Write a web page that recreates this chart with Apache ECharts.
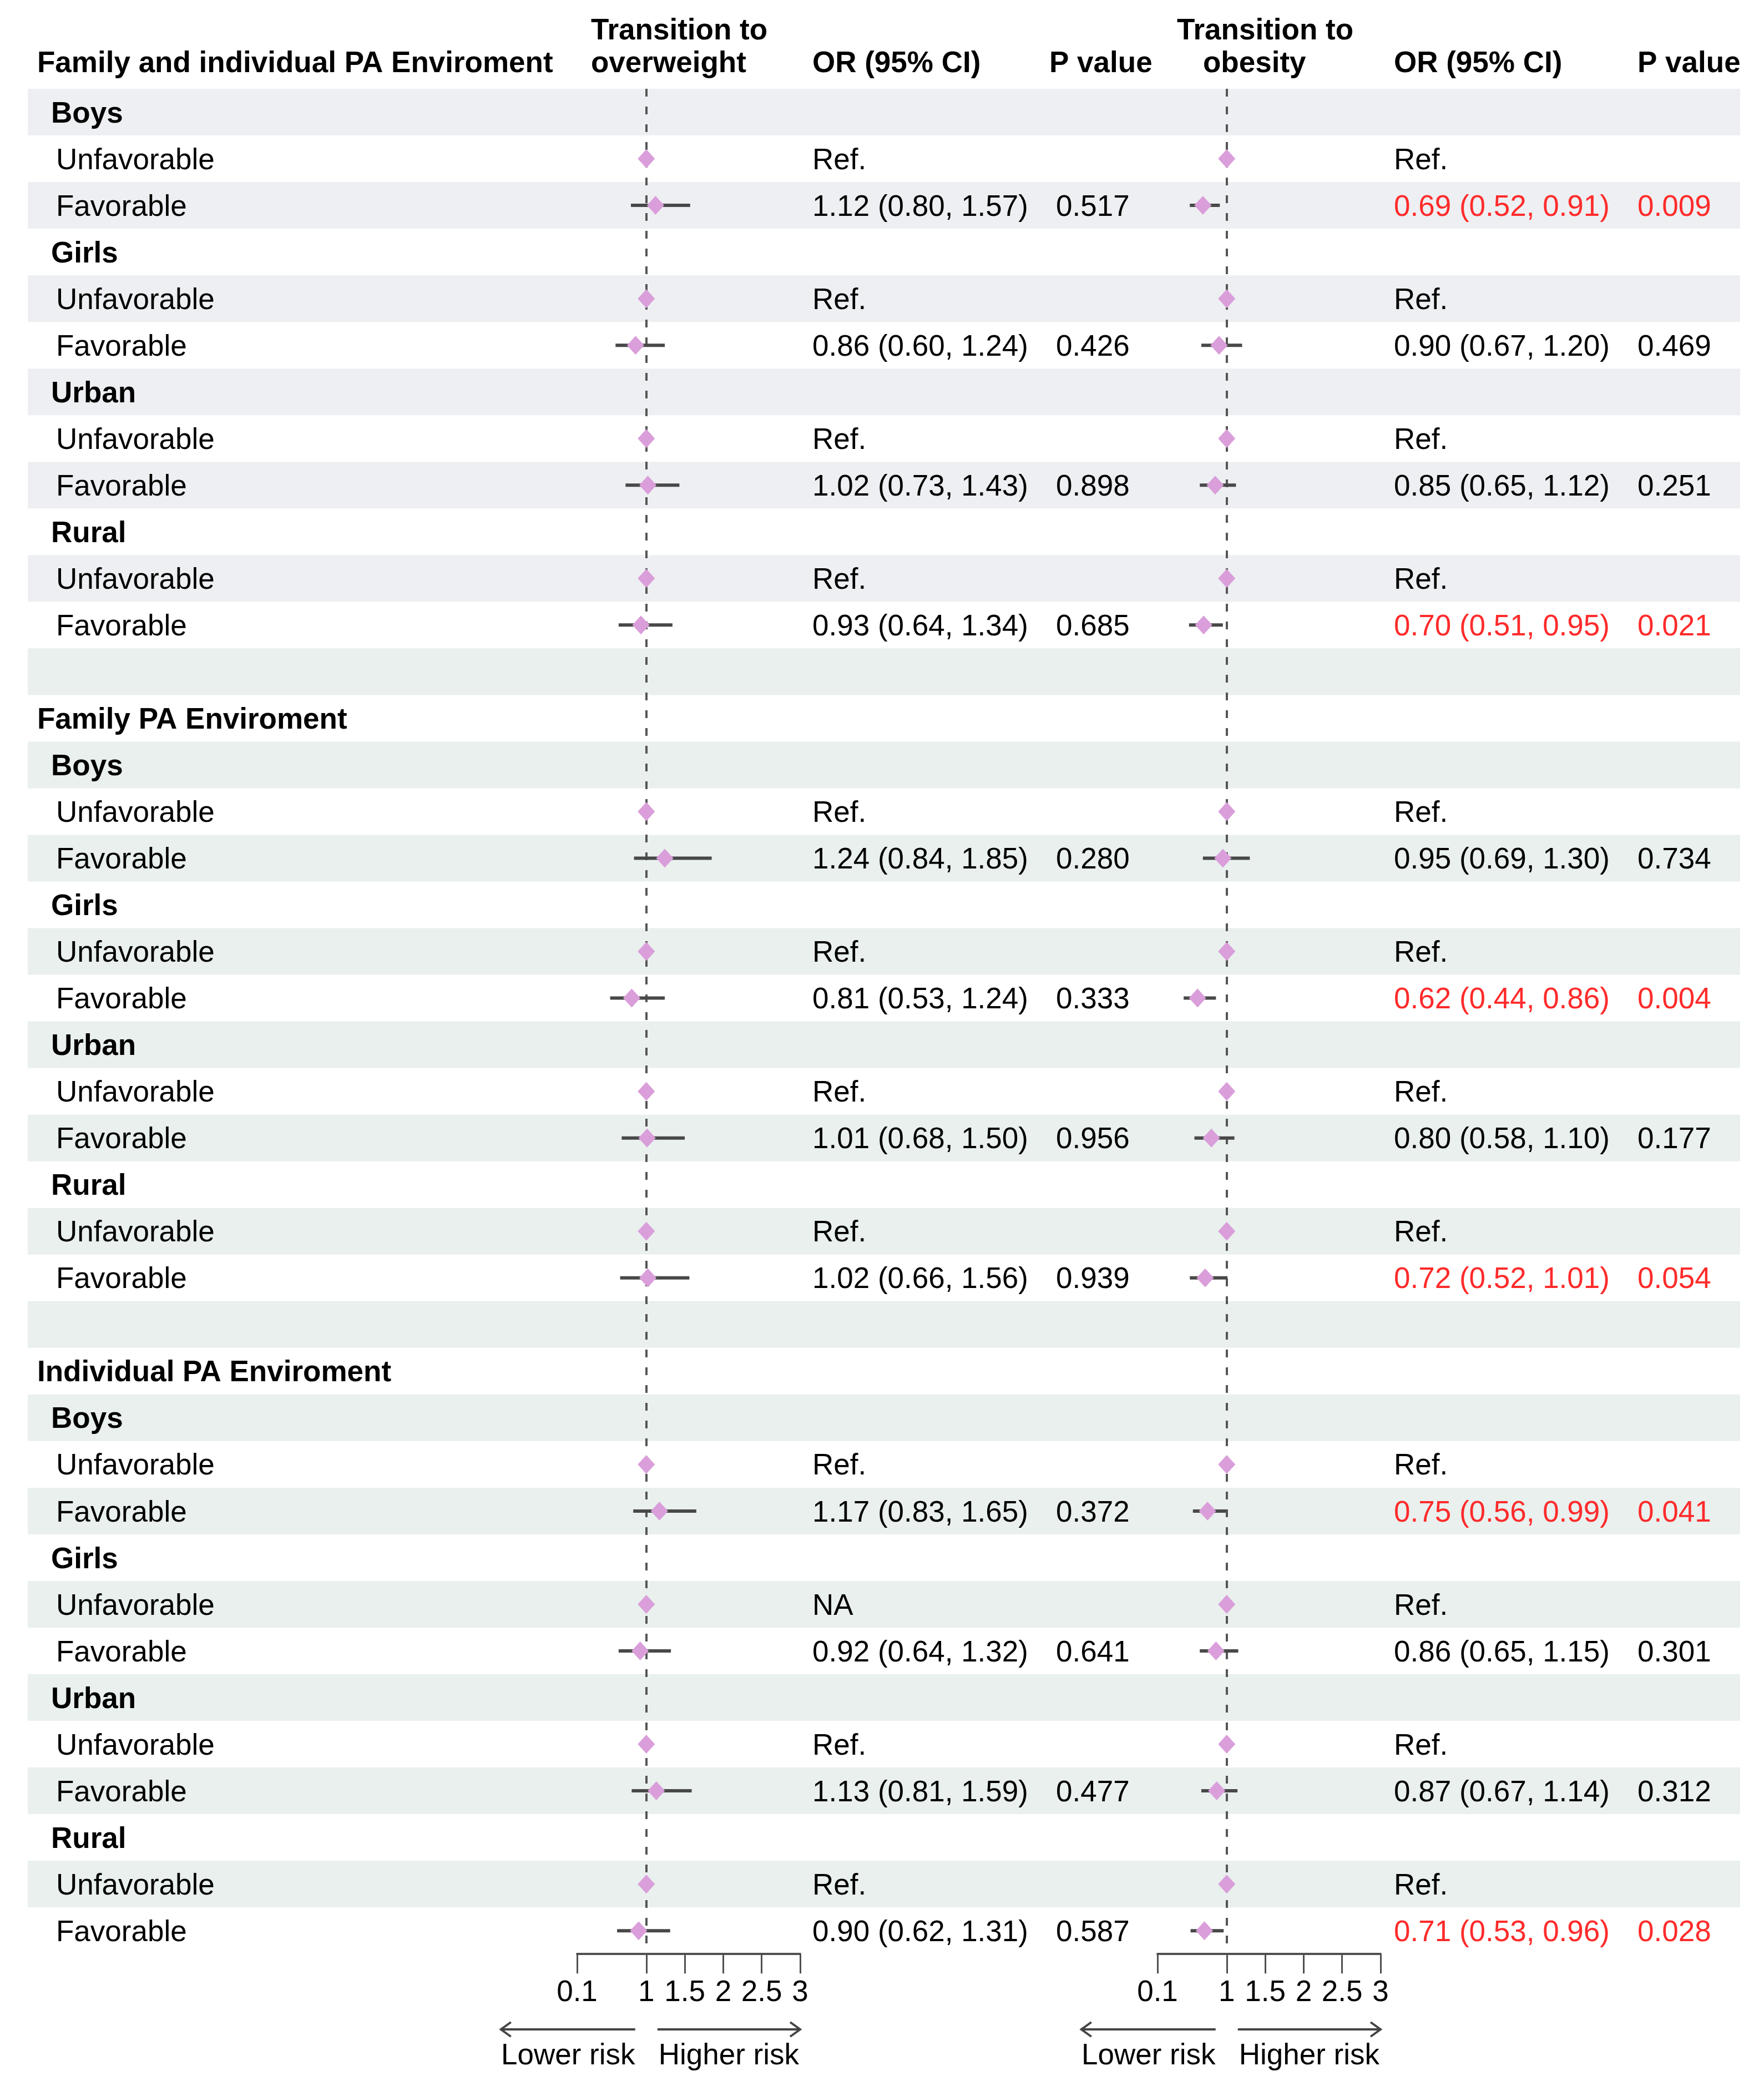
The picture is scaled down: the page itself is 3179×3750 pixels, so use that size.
<!DOCTYPE html>
<html>
<head>
<meta charset="utf-8">
<script src="https://cdn.jsdelivr.net/npm/echarts@6/dist/echarts.min.js"></script>
<style>
html,body{margin:0;padding:0;background:#ffffff;}
#main{width:3179px;height:3750px;}
</style>
</head>
<body>
<div id="main"></div>
<script>
// ---------------- DATA ----------------
const rowLabels = [
  'Boys','Unfavorable','Favorable','Girls','Unfavorable','Favorable',
  'Urban','Unfavorable','Favorable','Rural','Unfavorable','Favorable','',
  'Family PA Enviroment',
  'Boys','Unfavorable','Favorable','Girls','Unfavorable','Favorable',
  'Urban','Unfavorable','Favorable','Rural','Unfavorable','Favorable','',
  'Individual PA Enviroment',
  'Boys','Unfavorable','Favorable','Girls','Unfavorable','Favorable',
  'Urban','Unfavorable','Favorable','Rural','Unfavorable','Favorable'
];
const headerTitle = 'Family and individual PA Enviroment';
const sectionTitles = ['Family PA Enviroment', 'Individual PA Enviroment'];
const subgroupNames = ['Boys', 'Girls', 'Urban', 'Rural'];

// Transition to overweight (Favorable rows, in order)
const owOR   = [1.12, 0.86, 1.02, 0.93, 1.24, 0.81, 1.01, 1.02, 1.17, 0.92, 1.13, 0.90];
const owLow  = [0.80, 0.60, 0.73, 0.64, 0.84, 0.53, 0.68, 0.66, 0.83, 0.64, 0.81, 0.62];
const owHigh = [1.57, 1.24, 1.43, 1.34, 1.85, 1.24, 1.50, 1.56, 1.65, 1.32, 1.59, 1.31];
const owP    = [0.517, 0.426, 0.898, 0.685, 0.280, 0.333, 0.956, 0.939, 0.372, 0.641, 0.477, 0.587];
const owRefText = ['Ref.','Ref.','Ref.','Ref.','Ref.','Ref.','Ref.','Ref.','Ref.','NA','Ref.','Ref.'];

// Transition to obesity (Favorable rows, in order)
const obOR   = [0.69, 0.90, 0.85, 0.70, 0.95, 0.62, 0.80, 0.72, 0.75, 0.86, 0.87, 0.71];
const obLow  = [0.52, 0.67, 0.65, 0.51, 0.69, 0.44, 0.58, 0.52, 0.56, 0.65, 0.67, 0.53];
const obHigh = [0.91, 1.20, 1.12, 0.95, 1.30, 0.86, 1.10, 1.01, 0.99, 1.15, 1.14, 0.96];
const obP    = [0.009, 0.469, 0.251, 0.021, 0.734, 0.004, 0.177, 0.054, 0.041, 0.301, 0.312, 0.028];
const obRefText = ['Ref.','Ref.','Ref.','Ref.','Ref.','Ref.','Ref.','Ref.','Ref.','Ref.','Ref.','Ref.'];

const refValue = 1;
const axisMin = 0.1, axisMax = 3;
const tickValues = [0.1, 1, 1.5, 2, 2.5, 3];
const highlightP = 0.1;

// ---------------- LAYOUT / STYLE ----------------
const W = 3179;
const FONT = '"Liberation Sans", Arial, Helvetica, sans-serif';
const FS = 53;
const TEXT_DY = 4;
const TOP = 160, ROW_H = 84.03;
const NROWS = rowLabels.length;
const TABLE_H = ROW_H * NROWS;
const F1_LEFT = 1040, F2_LEFT = 2086, F_W = 402;
const X_TITLE = 67, X_SUB = 92, X_ITEM = 101;
const X_OR1 = 1464, X_P1 = 1903, X_OR2 = 2512, X_P2 = 2951;
const STRIPE_X0 = 50, STRIPE_X1 = 3136;
const STRIPE_A = '#EEEFF2', STRIPE_B = '#E9F0EE';
const RED = '#FF2B2B';
const DIAMOND = '#DA9EDA';
const CI_COLOR = '#484848';

const mid = i => i + 0.5;   // row centre on the row axis

function buildRows(est, lo, hi, p, refText) {
  const out = []; let u = 0, f = 0;
  rowLabels.forEach((lab, i) => {
    if (lab === 'Unfavorable') { out.push({ row: i, est: refValue, ref: refText[u++] }); }
    else if (lab === 'Favorable') { out.push({ row: i, est: est[f], lo: lo[f], hi: hi[f], p: p[f] }); f++; }
  });
  return out;
}
const owRows = buildRows(owOR, owLow, owHigh, owP, owRefText);
const obRows = buildRows(obOR, obLow, obHigh, obP, obRefText);

const firstSectionRow = rowLabels.indexOf(sectionTitles[0]) - 1;

function textColumn(x, items) {
  return {
    type: 'custom', xAxisIndex: 0, yAxisIndex: 0, z: 6, silent: true,
    data: items.map(it => [x, mid(it.row)]),
    renderItem: function (params, api) {
      const it = items[params.dataIndex];
      const c = api.coord([api.value(0), api.value(1)]);
      return {
        type: 'text', x: c[0], y: c[1] + TEXT_DY,
        style: {
          text: it.text, fill: it.color || '#000',
          font: (it.bold ? 'bold ' : '') + FS + 'px ' + FONT,
          align: 'left', verticalAlign: 'middle'
        }
      };
    }
  };
}

const labelItems = [];
rowLabels.forEach((lab, i) => {
  if (!lab) return;
  if (sectionTitles.includes(lab)) labelItems.push({ row: i, text: lab, bold: true, x: X_TITLE });
  else if (subgroupNames.includes(lab)) labelItems.push({ row: i, text: lab, bold: true, x: X_SUB });
  else labelItems.push({ row: i, text: lab, x: X_ITEM });
});

function orItems(rows) {
  return rows.map(r => ({
    row: r.row,
    text: r.ref ? r.ref : `${r.est.toFixed(2)} (${r.lo.toFixed(2)}, ${r.hi.toFixed(2)})`,
    color: (!r.ref && r.p < highlightP) ? RED : '#000'
  }));
}
function pItems(rows) {
  return rows.filter(r => !r.ref).map(r => ({
    row: r.row, text: r.p.toFixed(3), color: r.p < highlightP ? RED : '#000'
  }));
}

function forestSeries(axisIdx, rows) {
  const ciRows = rows.filter(r => !r.ref);
  return [
    {
      type: 'custom', xAxisIndex: axisIdx, yAxisIndex: axisIdx, z: 3, silent: true,
      data: ciRows.map(r => [r.lo, r.hi, mid(r.row)]),
      encode: { x: [0, 1], y: 2 },
      renderItem: function (params, api) {
        const a = api.coord([api.value(0), api.value(2)]);
        const b = api.coord([api.value(1), api.value(2)]);
        return {
          type: 'line', shape: { x1: a[0], y1: a[1], x2: b[0], y2: b[1] },
          style: { stroke: CI_COLOR, lineWidth: 6, lineCap: 'butt' }
        };
      }
    },
    {
      type: 'scatter', xAxisIndex: axisIdx, yAxisIndex: axisIdx, z: 4, silent: true,
      symbol: 'diamond', symbolSize: [31, 34],
      itemStyle: { color: DIAMOND, opacity: 1 },
      data: rows.map(r => [r.est, mid(r.row)]),
      markLine: {
        silent: true, symbol: ['none', 'none'], animation: false, z: 2,
        label: { show: false },
        lineStyle: { color: '#555', width: 4, type: [14, 18] },
        data: [[{ coord: [refValue, 0] }, { coord: [refValue, NROWS] }]]
      }
    }
  ];
}

function forestXAxis(gridIndex) {
  return {
    type: 'value', gridIndex, min: axisMin, max: axisMax, position: 'bottom',
    axisLine: { show: true, onZero: false, lineStyle: { color: '#505050', width: 4 } },
    axisTick: { show: true, inside: false, length: 35, customValues: tickValues,
      lineStyle: { color: '#505050', width: 3 } },
    axisLabel: { show: true, customValues: tickValues, margin: 44, fontSize: FS,
      fontFamily: FONT, color: '#000' },
    splitLine: { show: false }
  };
}
function rowAxis(gridIndex) {
  return { type: 'value', gridIndex, min: 0, max: NROWS, inverse: true, show: false,
    splitLine: { show: false } };
}

const stripeRows = rowLabels.map((l, i) => i).filter(i => i % 2 === 0);

const option = {
  backgroundColor: '#ffffff',
  animation: false,
  grid: [
    { left: 0, width: W, top: TOP, height: TABLE_H },
    { left: F1_LEFT, width: F_W, top: TOP, height: TABLE_H },
    { left: F2_LEFT, width: F_W, top: TOP, height: TABLE_H }
  ],
  xAxis: [
    { type: 'value', gridIndex: 0, min: 0, max: W, show: false, splitLine: { show: false } },
    forestXAxis(1),
    forestXAxis(2)
  ],
  yAxis: [rowAxis(0), rowAxis(1), rowAxis(2)],
  series: [
    {
      type: 'custom', xAxisIndex: 0, yAxisIndex: 0, z: 0, silent: true,
      data: stripeRows.map(i => [STRIPE_X0, i]),
      renderItem: function (params, api) {
        const r = api.value(1);
        const a = api.coord([STRIPE_X0, r]);
        const b = api.coord([STRIPE_X1, r + 1]);
        return { type: 'rect', shape: { x: a[0], y: a[1], width: b[0] - a[0], height: b[1] - a[1] },
          style: { fill: r < firstSectionRow ? STRIPE_A : STRIPE_B } };
      }
    },
    textColumn(X_TITLE, labelItems.filter(it => it.x === X_TITLE)),
    textColumn(X_SUB, labelItems.filter(it => it.x === X_SUB)),
    textColumn(X_ITEM, labelItems.filter(it => it.x === X_ITEM)),
    textColumn(X_OR1, orItems(owRows)),
    textColumn(X_P1, pItems(owRows)),
    textColumn(X_OR2, orItems(obRows)),
    textColumn(X_P2, pItems(obRows)),
    ...forestSeries(1, owRows),
    ...forestSeries(2, obRows)
  ]
};

const chart = echarts.init(document.getElementById('main'), null, { renderer: 'canvas' });
chart.setOption(option);

// ---------------- HEADERS & ARROWS ----------------
const H1_Y = 56, H2_Y = 115;
const ARROW_Y = 3657, ARROW_TEXT_Y = 3705, ARROW_GAP = 20, LOWER_LEN = 242;
const headers = [
  { x: X_TITLE, y: H2_Y, text: headerTitle },
  { x: 1065, y: H1_Y, text: 'Transition to' },
  { x: 1065, y: H2_Y, text: 'overweight' },
  { x: 1464, y: H2_Y, text: 'OR (95% CI)' },
  { x: 1891, y: H2_Y, text: 'P value' },
  { x: 2121, y: H1_Y, text: 'Transition to' },
  { x: 2168, y: H2_Y, text: 'obesity' },
  { x: X_OR2, y: H2_Y, text: 'OR (95% CI)' },
  { x: X_P2, y: H2_Y, text: 'P value' }
];
const graphics = headers.map(h => ({
  type: 'text', x: h.x, y: h.y, silent: true, z: 10,
  style: { text: h.text, font: 'bold ' + FS + 'px ' + FONT, fill: '#000', align: 'left', verticalAlign: 'middle' }
}));

function arrowGraphics(axisIdx) {
  const x1 = chart.convertToPixel({ xAxisIndex: axisIdx }, refValue);
  const x3 = chart.convertToPixel({ xAxisIndex: axisIdx }, axisMax);
  const lA = x1 - ARROW_GAP - LOWER_LEN, lB = x1 - ARROW_GAP;
  const rA = x1 + ARROW_GAP, rB = x3;
  const st = { stroke: '#444', lineWidth: 4, fill: null };
  const y = ARROW_Y, hl = 18, hw = 13;
  return [
    { type: 'line', shape: { x1: lA, y1: y, x2: lB, y2: y }, style: st, silent: true },
    { type: 'polyline', shape: { points: [[lA + hl, y - hw], [lA, y], [lA + hl, y + hw]] }, style: st, silent: true },
    { type: 'line', shape: { x1: rA, y1: y, x2: rB, y2: y }, style: st, silent: true },
    { type: 'polyline', shape: { points: [[rB - hl, y - hw], [rB, y], [rB - hl, y + hw]] }, style: st, silent: true },
    { type: 'text', x: (lA + lB) / 2, y: ARROW_TEXT_Y, silent: true,
      style: { text: 'Lower risk', font: FS + 'px ' + FONT, fill: '#000', align: 'center', verticalAlign: 'middle' } },
    { type: 'text', x: (rA + rB) / 2, y: ARROW_TEXT_Y, silent: true,
      style: { text: 'Higher risk', font: FS + 'px ' + FONT, fill: '#000', align: 'center', verticalAlign: 'middle' } }
  ];
}
graphics.push(...arrowGraphics(1), ...arrowGraphics(2));
chart.setOption({ graphic: graphics });
</script>
</body>
</html>
